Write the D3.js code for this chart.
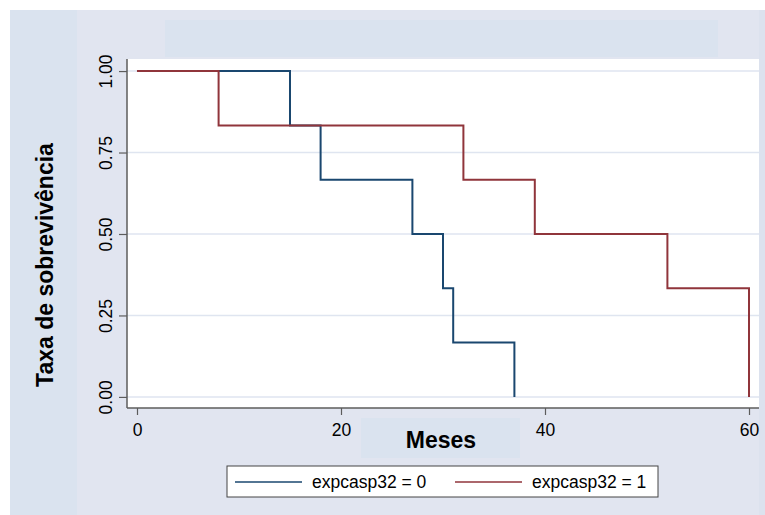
<!DOCTYPE html>
<html>
<head>
<meta charset="utf-8">
<script src="https://cdn.jsdelivr.net/npm/d3@7"></script>
<style>
  body { margin: 0; background: #fff; }
  text { font-family: "Liberation Sans", Arial, Helvetica, sans-serif; }
</style>
</head>
<body>
<svg id="chart"></svg>
<script>
const width = 765;
const height = 515;

// survival curve data (time in months, survival rate)
const timesGroup0 = [0, 15, 18, 27, 30, 31, 37];
const survGroup0 = [1, 0.8333, 0.6667, 0.5, 0.3333, 0.1667, 0];
const timesGroup1 = [0, 8, 32, 39, 52, 60];
const survGroup1 = [1, 0.8333, 0.6667, 0.5, 0.3333, 0];
const seriesNames = ["expcasp32 = 0", "expcasp32 = 1"];
const seriesColors = ["#1a476f", "#90353b"];
const xTicks = [0, 20, 40, 60];
const yTicks = [0, 0.25, 0.5, 0.75, 1];

const svg = d3.select("#chart")
  .attr("width", width)
  .attr("height", height);

// background panels
svg.append("rect").attr("x", 10).attr("y", 10).attr("width", 755).attr("height", 505).attr("fill", "#e1e5f0");
svg.append("rect").attr("x", 10).attr("y", 10).attr("width", 67).attr("height", 505).attr("fill", "#dae3ef");
svg.append("rect").attr("x", 759).attr("y", 10).attr("width", 6).attr("height", 505).attr("fill", "#dce2ee");
// empty title box
svg.append("rect").attr("x", 165).attr("y", 20).attr("width", 553).attr("height", 37).attr("fill", "#dae3ef");

// plot area
const plot = {left: 127, right: 759, top: 59, bottom: 408};
svg.append("rect")
  .attr("x", plot.left).attr("y", plot.top)
  .attr("width", plot.right - plot.left).attr("height", plot.bottom - plot.top)
  .attr("fill", "#fff");

const x = d3.scaleLinear().domain([-0.98, 60.98]).range([plot.left, plot.right]);
const y = d3.scaleLinear().domain([-0.034, 1.037]).range([plot.bottom, plot.top]);

// grid lines
svg.append("g")
  .selectAll("line")
  .data(yTicks)
  .enter()
  .append("line")
  .attr("x1", plot.left).attr("x2", plot.right)
  .attr("y1", d => y(d)).attr("y2", d => y(d))
  .attr("stroke", "#dfe5f0")
  .attr("stroke-width", 1.5);

// y axis
let yAxis = d3.axisLeft(y).tickValues(yTicks).tickFormat(d3.format(".2f")).tickSize(8).tickPadding(7);
let gy = svg.append("g").attr("transform", "translate(" + plot.left + ",0)").call(yAxis);
gy.select(".domain").attr("d", "M0," + plot.top + "V" + plot.bottom).attr("stroke", "#5c5c5c").attr("stroke-width", 1.5);
gy.selectAll(".tick line").attr("stroke", "#5c5c5c").attr("stroke-width", 1.2);
gy.selectAll(".tick text")
  .attr("font-size", 17.5)
  .attr("fill", "#000")
  .attr("text-anchor", "middle")
  .attr("x", null).attr("dy", null)
  .attr("transform", "translate(-15,0) rotate(-90)");

// x axis
let xAxis = d3.axisBottom(x).tickValues(xTicks).tickSize(7).tickPadding(9);
let gx = svg.append("g").attr("transform", "translate(0," + plot.bottom + ")").call(xAxis);
gx.select(".domain").attr("d", "M" + plot.left + ",0H" + plot.right).attr("stroke", "#5c5c5c").attr("stroke-width", 1.5);
gx.selectAll(".tick line").attr("stroke", "#5c5c5c").attr("stroke-width", 1.2);
gx.selectAll(".tick text").attr("font-size", 17.5).attr("fill", "#000");

// step lines for the two groups
let line = d3.line()
  .x(d => x(d[0]))
  .y(d => y(d[1]))
  .curve(d3.curveStepAfter);

let series = [d3.zip(timesGroup0, survGroup0), d3.zip(timesGroup1, survGroup1)];
svg.append("g")
  .selectAll("path")
  .data(series)
  .enter()
  .append("path")
  .attr("d", line)
  .attr("fill", "none")
  .attr("stroke", (d, i) => seriesColors[i])
  .attr("stroke-width", 2);

// axis titles
svg.append("rect").attr("x", 361).attr("y", 418).attr("width", 159).attr("height", 40).attr("fill", "#dae3ef");
svg.append("text")
  .attr("x", 441).attr("y", 448)
  .attr("text-anchor", "middle")
  .attr("font-size", 23).attr("font-weight", "bold")
  .text("Meses");

svg.append("text")
  .attr("transform", "translate(53,265) rotate(-90)")
  .attr("text-anchor", "middle")
  .attr("font-size", 23).attr("font-weight", "bold")
  .text("Taxa de sobrevivência");

// legend
let legend = svg.append("g");
legend.append("rect")
  .attr("x", 227).attr("y", 466).attr("width", 431).attr("height", 31)
  .attr("fill", "#fff").attr("stroke", "#444").attr("stroke-width", 1);
let legendX = [235, 455];
seriesNames.forEach((name, i) => {
  legend.append("line")
    .attr("x1", legendX[i]).attr("x2", legendX[i] + 67)
    .attr("y1", 482).attr("y2", 482)
    .attr("stroke", seriesColors[i]).attr("stroke-width", 1.5);
  legend.append("text")
    .attr("x", legendX[i] + 77).attr("y", 488)
    .attr("font-size", 17.5)
    .text(name);
});
</script>
</body>
</html>
